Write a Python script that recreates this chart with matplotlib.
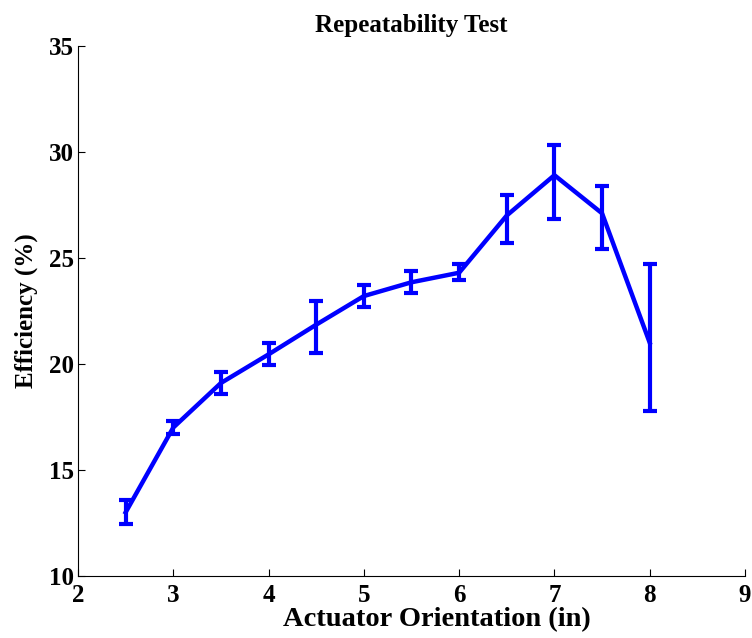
import matplotlib
matplotlib.use("Agg")
import matplotlib.pyplot as plt
import numpy as np

x = [2.5, 3, 3.5, 4, 4.5, 5, 5.5, 6, 6.5, 7, 7.5, 8]
eff = [13.0, 17.0, 19.1, 20.45, 21.85, 23.2, 23.85, 24.3, 27.0, 28.9, 27.1, 21.0]
err_low = [0.55, 0.3, 0.5, 0.5, 1.35, 0.5, 0.5, 0.35, 1.3, 2.05, 1.7, 3.2]
err_up = [0.6, 0.3, 0.5, 0.55, 1.1, 0.5, 0.55, 0.4, 0.95, 1.4, 1.3, 3.7]

xticks = [2, 3, 4, 5, 6, 7, 8, 9]
yticks = [10, 15, 20, 25, 30, 35]

plt.rcParams['font.family'] = ['Liberation Serif', 'DejaVu Serif']
plt.rcParams['font.weight'] = 'bold'

fig = plt.figure(figsize=(7.52, 6.38), dpi=100)
ax = fig.add_axes([0.1037, 0.0972, 0.887, 0.831])

ax.errorbar(x, eff, yerr=[err_low, err_up], color='#0000ff', lw=3.2,
            elinewidth=3.0, capsize=5, capthick=3.0)

ax.set_xlim(2, 9)
ax.set_ylim(10, 35)
ax.set_xticks(xticks)
ax.set_yticks(yticks)
ax.tick_params(direction='in', length=5, width=0.8, labelsize=18)
ax.tick_params(axis='x', pad=6)
ax.tick_params(axis='y', pad=3)
for lab in ax.get_xticklabels() + ax.get_yticklabels():
    lab.set_fontweight('bold')
ax.spines['top'].set_visible(False)
ax.spines['right'].set_visible(False)

ax.set_title('Repeatability Test', fontsize=18, fontweight='bold', pad=10)
ax.set_xlabel('Actuator Orientation (in)', fontsize=20.5, fontweight='bold')
ax.set_ylabel('Efficiency (%)', fontsize=18, fontweight='bold')
ax.xaxis.set_label_coords(0.538, -0.058)
ax.yaxis.set_label_coords(-0.060, 0.5)

fig.savefig('out.png', dpi=100)
